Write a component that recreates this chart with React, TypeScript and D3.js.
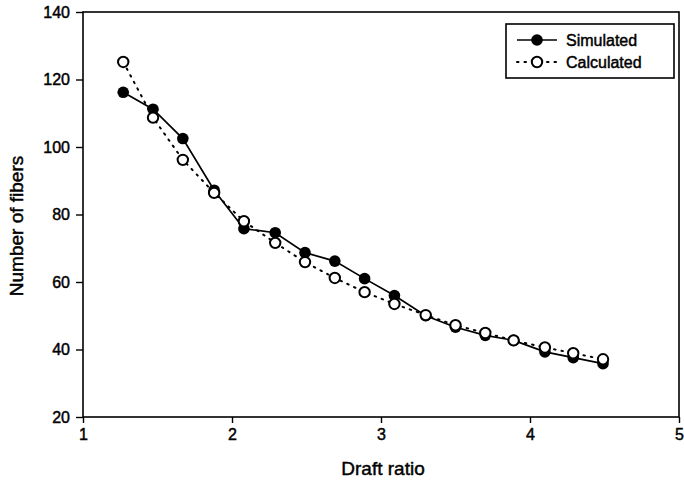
import * as d3 from "d3";
import { useEffect, useRef } from "react";

// values
const draftRatio = [1.27, 1.47, 1.67, 1.88, 2.08, 2.29, 2.49, 2.69, 2.89, 3.09, 3.3, 3.5, 3.7, 3.89, 4.1, 4.29, 4.49];
const simulated = [116.2, 111.2, 102.5, 87.2, 75.8, 74.6, 68.7, 66.2, 61.0, 56.0, 50.0, 46.6, 44.2, 42.7, 39.3, 37.6, 35.8];
const calculated = [125.2, 108.7, 96.2, 86.4, 78.0, 71.6, 65.9, 61.2, 57.0, 53.5, 50.2, 47.2, 44.9, 42.7, 40.6, 38.9, 37.1];
const xTicks = [1, 2, 3, 4, 5];
const yTicks = [20, 40, 60, 80, 100, 120, 140];
const seriesNames = ["Simulated", "Calculated"];

const W = 684;
const H = 485;
const FONT = "'Liberation Sans', Arial, sans-serif";

export default function App() {
  const ref = useRef<SVGSVGElement | null>(null);

  useEffect(() => {
    const svg = d3.select(ref.current);
    svg.selectAll("*").remove();

    const left = 83, right = 679, top = 12, bottom = 417;

    const x = d3.scaleLinear().domain([1, 5]).range([left, right]);
    const y = d3.scaleLinear().domain([20, 140]).range([bottom, top]);

    svg.append("rect").attr("width", W).attr("height", H).attr("fill", "#fff");

    // frame
    svg.append("rect")
      .attr("x", left).attr("y", top)
      .attr("width", right - left).attr("height", bottom - top)
      .attr("fill", "none").attr("stroke", "#000").attr("stroke-width", 1.6);

    // text looks heavy in the scan, thicken a bit
    const heavy = (sel: any) => sel
      .attr("font-family", FONT)
      .attr("fill", "#000")
      .attr("stroke", "#000")
      .attr("stroke-width", 0.45);

    // x axis
    const xAxis = svg.append("g")
      .attr("transform", `translate(0,${bottom})`)
      .call(d3.axisBottom(x).tickValues(xTicks).tickSize(6).tickPadding(6).tickFormat(d3.format("d")));
    xAxis.select(".domain").remove();
    xAxis.selectAll(".tick line").attr("stroke", "#000").attr("stroke-width", 1.4);
    heavy(xAxis.selectAll("text")).attr("font-size", 16);

    // y axis
    const yAxis = svg.append("g")
      .attr("transform", `translate(${left},0)`)
      .call(d3.axisLeft(y).tickValues(yTicks).tickSize(7).tickPadding(6).tickFormat(d3.format("d")));
    yAxis.select(".domain").remove();
    yAxis.selectAll(".tick line").attr("stroke", "#000").attr("stroke-width", 1.4);
    heavy(yAxis.selectAll("text")).attr("font-size", 16);

    // axis titles
    heavy(svg.append("text")
      .attr("x", 383).attr("y", 475)
      .attr("text-anchor", "middle")
      .attr("font-size", 19)
      .attr("stroke-width", 0.3)
      .text("Draft ratio"));

    heavy(svg.append("text")
      .attr("transform", `translate(23,226) rotate(-90)`)
      .attr("text-anchor", "middle")
      .attr("font-size", 19)
      .attr("stroke-width", 0.3)
      .text("Number of fibers"));

    const line = d3.line<number>()
      .x((d, i) => x(draftRatio[i]))
      .y((d) => y(d));

    // calculated: dotted line, open circles
    svg.append("path")
      .datum(calculated)
      .attr("d", line)
      .attr("fill", "none")
      .attr("stroke", "#000")
      .attr("stroke-width", 2)
      .attr("stroke-dasharray", "1.5,6")
      .attr("stroke-linecap", "round");

    // simulated: solid line
    svg.append("path")
      .datum(simulated)
      .attr("d", line)
      .attr("fill", "none")
      .attr("stroke", "#000")
      .attr("stroke-width", 1.7);

    svg.append("g").selectAll("circle")
      .data(simulated)
      .enter()
      .append("circle")
      .attr("cx", (d, i) => x(draftRatio[i]))
      .attr("cy", (d) => y(d))
      .attr("r", 5.8)
      .attr("fill", "#000");

    svg.append("g").selectAll("circle")
      .data(calculated)
      .enter()
      .append("circle")
      .attr("cx", (d, i) => x(draftRatio[i]))
      .attr("cy", (d) => y(d))
      .attr("r", 5.2)
      .attr("fill", "#fff")
      .attr("stroke", "#000")
      .attr("stroke-width", 2);

    // legend
    const lg = svg.append("g");
    lg.append("rect")
      .attr("x", 506).attr("y", 24)
      .attr("width", 168).attr("height", 54)
      .attr("fill", "#fff").attr("stroke", "#000").attr("stroke-width", 1.6);

    seriesNames.forEach((name, i) => {
      const ly = 40 + i * 22;
      const row = lg.append("g");
      row.append("line")
        .attr("x1", 517).attr("x2", 557).attr("y1", ly).attr("y2", ly)
        .attr("stroke", "#000")
        .attr("stroke-width", i === 0 ? 1.7 : 2)
        .attr("stroke-dasharray", i === 0 ? null : "1.5,6")
        .attr("stroke-linecap", i === 0 ? "butt" : "round");
      row.append("circle")
        .attr("cx", 537).attr("cy", ly)
        .attr("r", i === 0 ? 5.8 : 5.2)
        .attr("fill", i === 0 ? "#000" : "#fff")
        .attr("stroke", "#000").attr("stroke-width", i === 0 ? 0 : 2);
      heavy(row.append("text")
        .attr("x", 566).attr("y", ly)
        .attr("dy", "0.35em")
        .attr("font-size", 16)
        .attr("stroke-width", 0.35)
        .text(name));
    });
  }, []);

  return (
    <svg
      ref={ref}
      width={W}
      height={H}
      style={{ position: "absolute", left: 0, top: 0, display: "block" }}
    />
  );
}
